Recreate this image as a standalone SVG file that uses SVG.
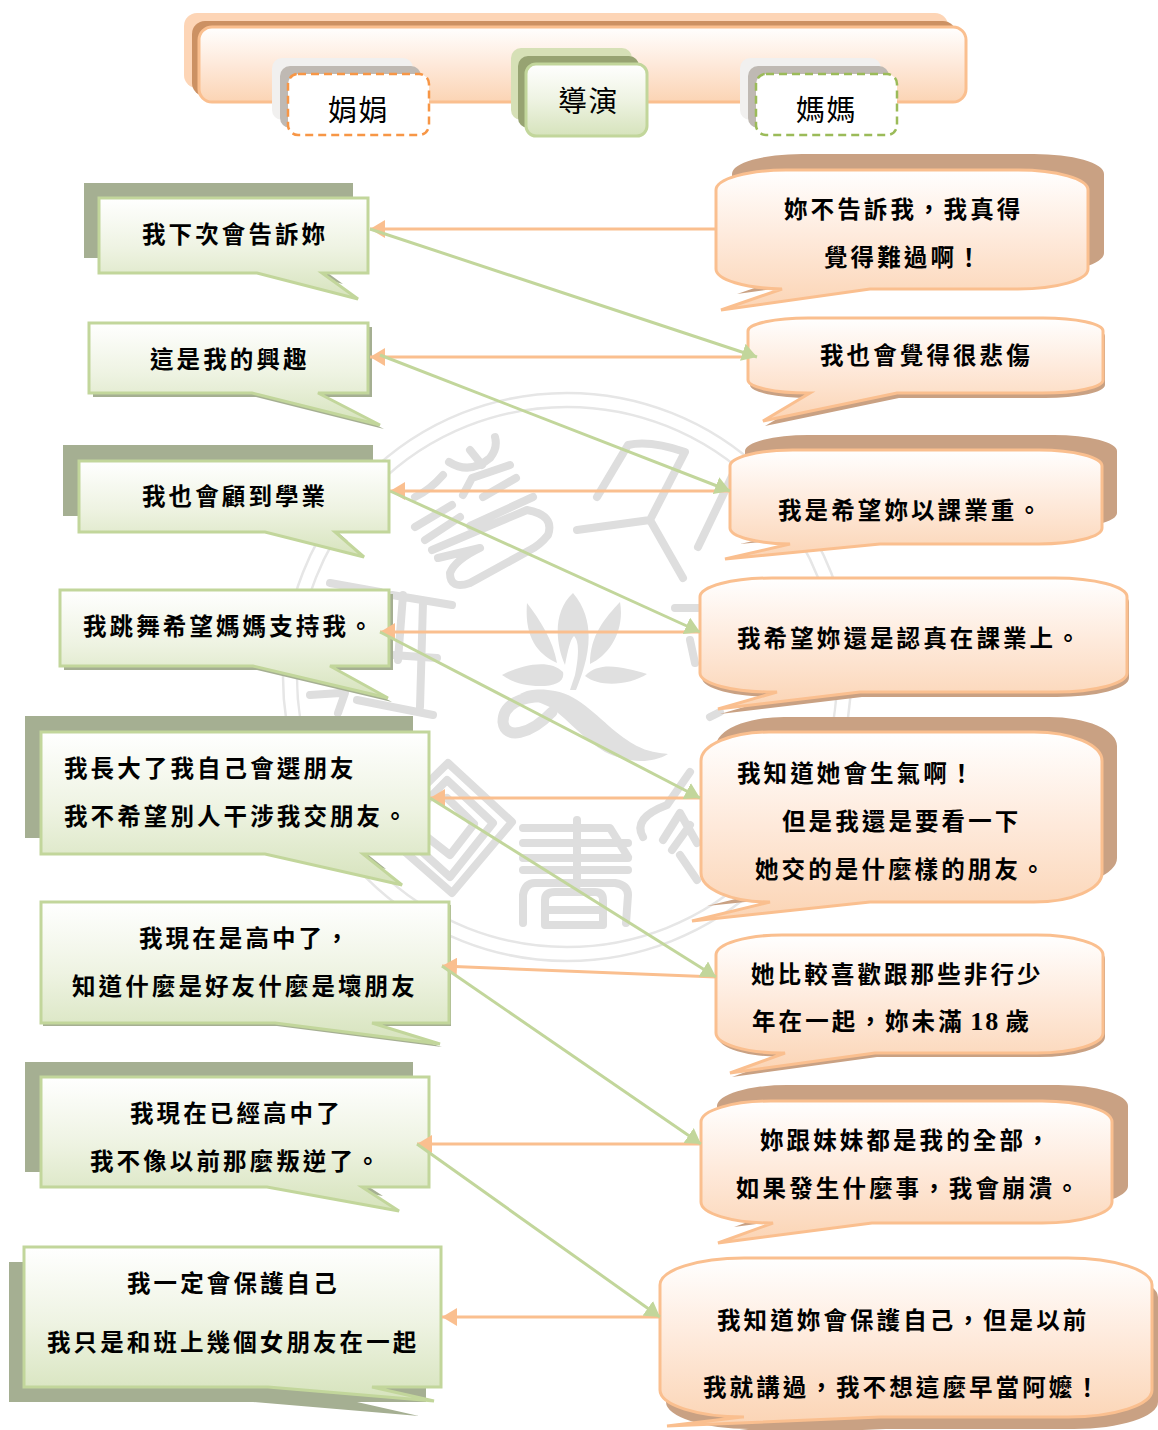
<svg xmlns="http://www.w3.org/2000/svg" width="1158" height="1430" viewBox="0 0 1158 1430">
<style>
text{font-family:"Noto Sans CJK TC","Noto Sans CJK SC",sans-serif;fill:#000}
.t{font-size:23.5px;font-weight:700;letter-spacing:3.1px;transform:translateY(1px)}
.h{font-size:29px;font-weight:400;letter-spacing:1.5px}
.g{fill:url(#gg);stroke:#c2d69b;stroke-width:3}
.o{fill:url(#og);stroke:#fabf8f;stroke-width:3}
.gs{fill:#a5af92}
.os{fill:#c9a183}
.lo{stroke:#fabf8f;stroke-width:3;fill:none;marker-end:url(#ao)}
.lg{stroke:#c2d69b;stroke-width:3;fill:none;marker-end:url(#ag)}
.wm{fill:none;stroke:#dedede;stroke-width:8;stroke-linecap:round;stroke-linejoin:round}
.wf{fill:#e0e0e0}
.r{fill:none;stroke:#e6e6e6;stroke-width:2.5}
</style>
<defs>
<linearGradient id="gg" x1="0" y1="0" x2="0" y2="1"><stop offset="0" stop-color="#fff"/><stop offset=".5" stop-color="#eef3e2"/><stop offset="1" stop-color="#d6e3bc"/></linearGradient>
<linearGradient id="og" x1="0" y1="0" x2="0" y2="1"><stop offset="0" stop-color="#fff"/><stop offset=".5" stop-color="#fee9da"/><stop offset="1" stop-color="#fbd4b4"/></linearGradient>
<marker id="ao" markerUnits="userSpaceOnUse" markerWidth="16" markerHeight="18" refX="15" refY="9" orient="auto"><path d="M0,0L15,9L0,18Z" fill="#fabf8f"/></marker>
<marker id="ag" markerUnits="userSpaceOnUse" markerWidth="16" markerHeight="18" refX="15" refY="9" orient="auto"><path d="M0,0L15,9L0,18Z" fill="#c2d69b"/></marker>
<path id="pl1" d="M99,198H368V273H322L358,299L257,273H99Z"/>
<path id="pl2" d="M89,323H368V393H318L380,425L252,393H89Z"/>
<path id="pl3" d="M79,461H389V532H335L364,557L265,532H79Z"/>
<path id="pl4" d="M60,590H389V666H330L388,698L253,666H60Z"/>
<path id="pl5" d="M41,732H429V854H363L402,885L265,854H41Z"/>
<path id="pl6" d="M41,902H449V1023H372L440,1044L275,1023H41Z"/>
<path id="pl7" d="M41,1077H429V1187H362L399,1211L267,1187H41Z"/>
<path id="pl8" d="M24,1247H441V1387H372L434,1401L268,1387H24Z"/>
<path id="pr1" d="M716,190A70,20 0 0 1 786,170H1018A70,20 0 0 1 1088,190V269A70,20 0 0 1 1018,289H870L721,310L782,289A70,20 0 0 1 716,269Z"/>
<path id="pr2" d="M748,331A60,13 0 0 1 808,318H1043A60,13 0 0 1 1103,331V380A60,13 0 0 1 1043,393H897L763,421L810,393H808A60,13 0 0 1 748,380Z"/>
<path id="pr3" d="M730,466A63,16 0 0 1 793,450H1039A63,16 0 0 1 1102,466V528A63,16 0 0 1 1039,544H880L725,559L790,544A63,16 0 0 1 730,528Z"/>
<path id="pr4" d="M700,597A72,19 0 0 1 772,578H1055A72,19 0 0 1 1127,597V673A72,19 0 0 1 1055,692H860L718,709L777,692H772A72,19 0 0 1 700,673Z"/>
<path id="pr5" d="M701,761A68,29 0 0 1 769,732H1034A68,29 0 0 1 1102,761V873A68,29 0 0 1 1034,902H870L692,921L770,902H769A68,29 0 0 1 701,873Z"/>
<path id="pr6" d="M716,955A66,20 0 0 1 782,935H1037A66,20 0 0 1 1103,955V1033A66,20 0 0 1 1037,1053H875L730,1073L785,1053H782A66,20 0 0 1 716,1033Z"/>
<path id="pr7" d="M701,1122A70,21 0 0 1 771,1101H1042A70,21 0 0 1 1112,1122V1202A70,21 0 0 1 1042,1223H872L718,1243L773,1223H771A70,21 0 0 1 701,1202Z"/>
<path id="pr8" d="M660,1285A84,27 0 0 1 744,1258H1068A84,27 0 0 1 1152,1285V1390A84,27 0 0 1 1068,1417H880L667,1426L742,1417H744A84,27 0 0 1 660,1390Z"/>
</defs>
<g id="watermark">
<circle class="r" cx="567" cy="677" r="284"/>
<circle class="r" cx="567" cy="677" r="270"/>
<path class="wm" d="M449,462Q470,475 490,458Q498,448 495,437M470,450L482,465M510,465L472,478L463,495M516,478L483,497M415,527L452,505M425,540L460,517M432,550L527,510Q555,515 548,535Q540,545 530,550L470,583Q450,590 450,573Q455,560 480,548L438,558M533,497L470,526M415,497Q430,490 443,475"/>
<path class="wm" d="M597,497L628,445Q650,440 685,452L650,520L683,578M577,530L650,520M698,547L735,470"/>
<path class="wf" d="M527,603C540,620 553,640 557,663C540,655 524,640 527,603ZM573,593C552,612 556,645 565,665C568,650 570,640 574,636C578,640 580,650 575,675L570,690L576,690C586,665 600,625 573,593ZM620,602C625,630 610,655 590,664C590,635 605,618 620,602ZM502,675C520,665 550,658 563,672C565,682 555,686 540,686C525,686 512,682 502,675ZM585,676C600,660 625,668 647,674C630,685 600,688 585,676ZM520,694C530,688 545,689 555,691C580,695 600,720 620,735C640,750 650,752 668,754C650,765 625,762 605,752C585,740 570,722 552,708Z"/>
<path class="wm" style="stroke-width:11;stroke:#e0e0e0" d="M550,697C520,695 503,705 503,722C505,740 530,735 552,712"/>
<path class="wm" d="M448,763L512,822L452,893L380,830ZM447,780L493,823L450,877L398,830ZM447,798L474,824L450,855L418,830"/>
<path class="wm" d="M523,828H610L628,857M523,843H628M523,858H628M523,870H628M577,820V885M523,923V895Q525,883 535,883H615Q628,885 628,895L626,923M545,925V900Q545,892 555,892H595Q603,892 603,900V925H545ZM545,910H603"/>
<path class="wm" d="M643,837Q632,818 667,805L690,772M663,840L680,813L697,843M672,850L690,825M680,855L697,880"/>
<path class="wm" d="M392,595L452,605M330,583L380,592M423,602L420,707M403,595L398,660M392,655L437,658M357,700L433,715M310,695L340,693M345,693L338,713"/>
<path class="wm" d="M675,608H700M690,640L695,663M710,717L720,712"/>
</g>
<g id="header">
<rect x="184" y="13" width="764" height="75" rx="13" fill="#fdd5b6"/>
<rect x="192" y="21" width="764" height="75" rx="13" fill="#cc9163"/>
<rect x="199" y="27" width="767" height="75" rx="13" class="o"/>
</g>
<g id="n-juan">
<rect x="272" y="58" width="141" height="62" rx="10" fill="#f1f0ef"/>
<rect x="280" y="66" width="141" height="62" rx="10" fill="#bfb9b3"/>
<rect x="288" y="74" width="141" height="61" rx="10" fill="#fff" stroke="#f79646" stroke-width="2.5" stroke-dasharray="8 5"/>
<text class="h" x="328" y="121">娟娟</text>
</g>
<g id="n-director">
<rect x="511" y="48" width="121" height="72" rx="10" fill="#d6e0b6"/>
<rect x="518" y="56" width="121" height="72" rx="10" fill="#97a372"/>
<rect x="526" y="64" width="121" height="72" rx="10" class="g"/>
<text class="h" x="558" y="112">導演</text>
</g>
<g id="n-mom">
<rect x="740" y="58" width="141" height="62" rx="10" fill="#f1f0ef"/>
<rect x="748" y="66" width="141" height="62" rx="10" fill="#bfb9b3"/>
<rect x="756" y="74" width="141" height="61" rx="10" fill="#fff" stroke="#9bbb59" stroke-width="2.5" stroke-dasharray="8 5"/>
<text class="h" x="796" y="121">媽媽</text>
</g>
<g id="l1"><use href="#pl1" class="gs" transform="translate(-15,-15)"/><use href="#pl1" class="g"/><text class="t" x="142" y="242">我下次會告訴妳</text></g>
<g id="l2"><use href="#pl2" class="gs" transform="translate(4,4)"/><use href="#pl2" class="g"/><text class="t" x="150" y="367">這是我的興趣</text></g>
<g id="l3"><use href="#pl3" class="gs" transform="translate(-16,-16)"/><use href="#pl3" class="g"/><text class="t" x="142" y="504">我也會顧到學業</text></g>
<g id="l4"><use href="#pl4" class="gs" transform="translate(4,4)"/><use href="#pl4" class="g"/><text class="t" x="83" y="634">我跳舞希望媽媽支持我。</text></g>
<g id="l5"><use href="#pl5" class="gs" transform="translate(-16,-16)"/><use href="#pl5" class="g"/><text class="t" x="64" y="776">我長大了我自己會選朋友</text><text class="t" x="64" y="824">我不希望別人干涉我交朋友。</text></g>
<g id="l6"><use href="#pl6" class="gs" transform="translate(2,3)"/><use href="#pl6" class="g"/><text class="t" x="139" y="946">我現在是高中了，</text><text class="t" x="72" y="994">知道什麼是好友什麼是壞朋友</text></g>
<g id="l7"><use href="#pl7" class="gs" transform="translate(-16,-15)"/><use href="#pl7" class="g"/><text class="t" x="130" y="1121">我現在已經高中了</text><text class="t" x="90" y="1169">我不像以前那麼叛逆了。</text></g>
<g id="l8"><use href="#pl8" class="gs" transform="translate(-15,15)"/><use href="#pl8" class="g"/><text class="t" x="127" y="1291">我一定會保護自己</text><text class="t" x="47" y="1350">我只是和班上幾個女朋友在一起</text></g>
<g id="r1"><use href="#pr1" class="os" transform="translate(16,-16)"/><use href="#pr1" class="o"/><text class="t" x="784" y="217">妳不告訴我，我真得</text><text class="t" x="824" y="265">覺得難過啊！</text></g>
<g id="r2"><use href="#pr2" class="os" transform="translate(2,5)"/><use href="#pr2" class="o"/><text class="t" x="820" y="363">我也會覺得很悲傷</text></g>
<g id="r3"><use href="#pr3" class="os" transform="translate(15,-15)"/><use href="#pr3" class="o"/><text class="t" x="778" y="518">我是希望妳以課業重。</text></g>
<g id="r4"><use href="#pr4" class="os" transform="translate(2,5)"/><use href="#pr4" class="o"/><text class="t" x="737" y="646">我希望妳還是認真在課業上。</text></g>
<g id="r5"><use href="#pr5" class="os" transform="translate(15,-15)"/><use href="#pr5" class="o"/><text class="t" x="737" y="781">我知道她會生氣啊！</text><text class="t" x="782" y="829">但是我還是要看一下</text><text class="t" x="755" y="877">她交的是什麼樣的朋友。</text></g>
<g id="r6"><use href="#pr6" class="os" transform="translate(2,4)"/><use href="#pr6" class="o"/><text class="t" x="751" y="982">她比較喜歡跟那些非行少</text><text class="t" x="752" y="1029">年在一起，妳未滿<tspan letter-spacing="0"> </tspan><tspan font-family="Liberation Serif,serif" font-size="26" letter-spacing="2">18</tspan><tspan letter-spacing="0"> </tspan>歲</text></g>
<g id="r7"><use href="#pr7" class="os" transform="translate(16,-16)"/><use href="#pr7" class="o"/><text class="t" x="760" y="1148">妳跟妹妹都是我的全部，</text><text class="t" x="736" y="1196">如果發生什麼事，我會崩潰。</text></g>
<g id="r8"><use href="#pr8" class="os" transform="translate(6,12)"/><use href="#pr8" class="o"/><text class="t" x="717" y="1328">我知道妳會保護自己，但是以前</text><text class="t" x="703" y="1395">我就講過，我不想這麼早當阿嬤！</text></g>
<g id="connectors">
<path class="lo" d="M716,229H370"/>
<path class="lo" d="M748,357H370"/>
<path class="lo" d="M730,491H390"/>
<path class="lo" d="M700,632H380"/>
<path class="lo" d="M701,798H430"/>
<path class="lo" d="M716,977L442,966"/>
<path class="lo" d="M701,1144H417"/>
<path class="lo" d="M660,1317H442"/>
<path class="lg" d="M370,229L757,357"/>
<path class="lg" d="M380,355L730,491"/>
<path class="lg" d="M390,491L700,632"/>
<path class="lg" d="M380,632L700,798"/>
<path class="lg" d="M430,798L716,977"/>
<path class="lg" d="M442,966L701,1144"/>
<path class="lg" d="M417,1144L660,1317"/>
</g>
</svg>
